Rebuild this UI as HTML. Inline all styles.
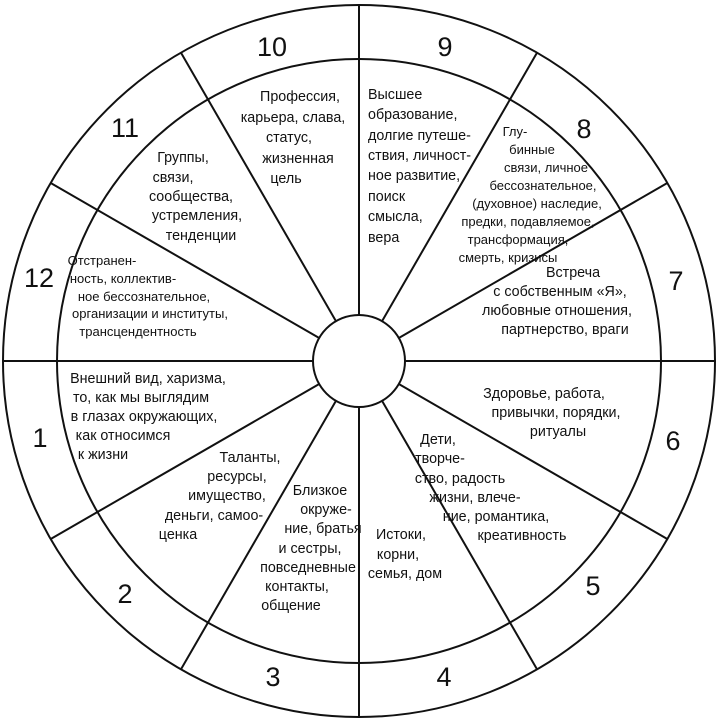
<!DOCTYPE html>
<html><head><meta charset="utf-8"><style>
body{margin:0;background:#fff}
svg{display:block}
text{font-family:"Liberation Sans","DejaVu Sans",sans-serif;fill:#111}
.n{font-size:27px}
.t{font-size:14.3px}
</style></head><body>
<svg width="720" height="724" viewBox="0 0 720 724" xmlns="http://www.w3.org/2000/svg">
<g stroke="#111" stroke-width="2" fill="none">
<circle cx="359" cy="361" r="356"/>
<circle cx="359" cy="361" r="302"/>
<circle cx="359" cy="361" r="46" fill="#fff"/>
<line x1="359" y1="315" x2="359" y2="5"/>
<line x1="359" y1="407" x2="359" y2="717"/>
<line x1="313" y1="361" x2="3" y2="361"/>
<line x1="405" y1="361" x2="715" y2="361"/>
<line x1="382" y1="321.2" x2="537" y2="52.7"/>
<line x1="336" y1="400.8" x2="181" y2="669.3"/>
<line x1="336" y1="321.2" x2="181" y2="52.7"/>
<line x1="382" y1="400.8" x2="537" y2="669.3"/>
<line x1="398.8" y1="338" x2="667.3" y2="183"/>
<line x1="319.2" y1="384" x2="50.7" y2="539"/>
<line x1="319.2" y1="338" x2="50.7" y2="183"/>
<line x1="398.8" y1="384" x2="667.3" y2="539"/>
</g>
<g class="n" text-anchor="middle">
<text x="272" y="56">10</text>
<text x="445" y="56">9</text>
<text x="584" y="138">8</text>
<text x="676" y="290">7</text>
<text x="673" y="450">6</text>
<text x="593" y="595">5</text>
<text x="444" y="686">4</text>
<text x="273" y="686">3</text>
<text x="125" y="603">2</text>
<text x="40" y="447">1</text>
<text x="39" y="287">12</text>
<text x="125" y="137">11</text>
</g>
<g class="t">
<text text-anchor="middle"><tspan x="300" y="101">Профессия,</tspan><tspan x="293" y="122">карьера, слава,</tspan><tspan x="289" y="142">статус,</tspan><tspan x="298" y="163">жизненная</tspan><tspan x="286" y="183">цель</tspan></text>
<text><tspan x="368" y="99">Высшее</tspan><tspan x="368" y="119">образование,</tspan><tspan x="368" y="140">долгие путеше-</tspan><tspan x="368" y="160">ствия, личност-</tspan><tspan x="368" y="180">ное развитие,</tspan><tspan x="368" y="201">поиск</tspan><tspan x="368" y="221">смысла,</tspan><tspan x="368" y="242">вера</tspan></text>
<text text-anchor="middle" style="font-size:13px"><tspan x="515" y="136">Глу-</tspan><tspan x="532" y="154">бинные</tspan><tspan x="546" y="172">связи, личное</tspan><tspan x="543" y="190">бессознательное,</tspan><tspan x="537" y="208">(духовное) наследие,</tspan><tspan x="528" y="226">предки, подавляемое,</tspan><tspan x="518" y="244">трансформация,</tspan><tspan x="508" y="262">смерть, кризисы</tspan></text>
<text text-anchor="middle"><tspan x="573" y="277">Встреча</tspan><tspan x="560" y="296">с собственным «Я»,</tspan><tspan x="557" y="315">любовные отношения,</tspan><tspan x="565" y="334">партнерство, враги</tspan></text>
<text text-anchor="middle"><tspan x="544" y="398">Здоровье, работа,</tspan><tspan x="556" y="417">привычки, порядки,</tspan><tspan x="558" y="436">ритуалы</tspan></text>
<text text-anchor="middle"><tspan x="438" y="444">Дети,</tspan><tspan x="440" y="463">творче-</tspan><tspan x="460" y="483">ство, радость</tspan><tspan x="475" y="502">жизни, влече-</tspan><tspan x="496" y="521">ние, романтика,</tspan><tspan x="522" y="540">креативность</tspan></text>
<text text-anchor="middle"><tspan x="401" y="539">Истоки,</tspan><tspan x="398" y="559">корни,</tspan><tspan x="405" y="578">семья, дом</tspan></text>
<text text-anchor="middle"><tspan x="320" y="495">Близкое</tspan><tspan x="326" y="514">окруже-</tspan><tspan x="323" y="533">ние, братья</tspan><tspan x="310" y="553">и сестры,</tspan><tspan x="308" y="572">повседневные</tspan><tspan x="297" y="591">контакты,</tspan><tspan x="291" y="610">общение</tspan></text>
<text text-anchor="middle"><tspan x="250" y="462">Таланты,</tspan><tspan x="237" y="481">ресурсы,</tspan><tspan x="227" y="500">имущество,</tspan><tspan x="214" y="520">деньги, самоо-</tspan><tspan x="178" y="539">ценка</tspan></text>
<text text-anchor="middle"><tspan x="148" y="383">Внешний вид, харизма,</tspan><tspan x="141" y="402">то, как мы выглядим</tspan><tspan x="144" y="421">в глазах окружающих,</tspan><tspan x="123" y="440">как относимся</tspan><tspan x="103" y="459">к жизни</tspan></text>
<text text-anchor="middle" style="font-size:13px"><tspan x="102" y="265">Отстранен-</tspan><tspan x="123" y="283">ность, коллектив-</tspan><tspan x="144" y="301">ное бессознательное,</tspan><tspan x="150" y="318">организации и институты,</tspan><tspan x="138" y="336">трансцендентность</tspan></text>
<text text-anchor="middle"><tspan x="183" y="162">Группы,</tspan><tspan x="173" y="182">связи,</tspan><tspan x="191" y="201">сообщества,</tspan><tspan x="197" y="220">устремления,</tspan><tspan x="201" y="240">тенденции</tspan></text>
</g>
</svg>
</body></html>
